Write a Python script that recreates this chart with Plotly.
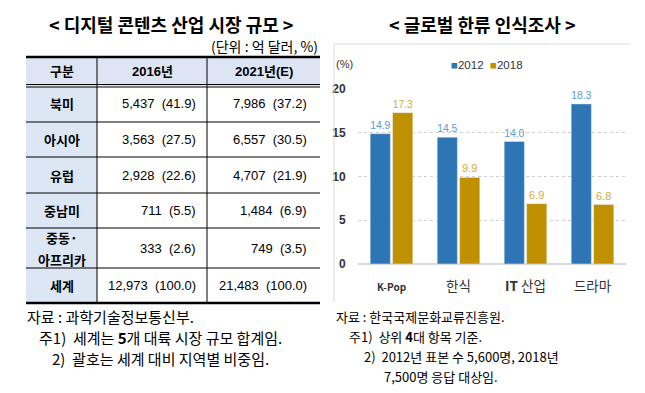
import plotly.graph_objects as go

W, H = 645, 393

# ---------------- data ----------------
table_title = "&lt; 디지털 콘텐츠 산업 시장 규모 &gt;"
table_unit = "(단위 : 억 달러, %)"
table_header = ["구분", "2016년", "2021년(E)"]
regions = ["북미", "아시아", "유럽", "중남미", "중동·<br>아프리카", "세계"]
val_2016 = ["5,437", "3,563", "2,928", "711", "333", "12,973"]
pct_2016 = ["41.9", "27.5", "22.6", "5.5", "2.6", "100.0"]
val_2021 = ["7,986", "6,557", "4,707", "1,484", "749", "21,483"]
pct_2021 = ["37.2", "30.5", "21.9", "6.9", "3.5", "100.0"]
left_notes = ["자료 : 과학기술정보통신부.",
              "주1)  세계는 <b>5</b>개 대륙 시장 규모 합계임.",
              "2)  괄호는 세계 대비 지역별 비중임."]

chart_title = "&lt; 글로벌 한류 인식조사 &gt;"
categories = ["K-Pop", "한식", "IT 산업", "드라마"]
series_names = ["2012", "2018"]
s2012 = [14.9, 14.5, 14.0, 18.3]
s2018 = [17.3, 9.9, 6.9, 6.8]
y_ticks = [0, 5, 10, 15, 20]
right_notes = ["자료 : 한국국제문화교류진흥원.",
               "주1)  상위 <b>4</b>대 항목 기준.",
               "2)  2012년 표본 수 5,600명, 2018년",
               "7,500명 응답 대상임."]

# ---------------- helpers ----------------
def px(x):
    return x / W

def py(y):
    return 1 - y / H

KR = "Noto Sans CJK KR, sans-serif"
NUM = "Liberation Sans, Noto Sans CJK KR, sans-serif"

fig = go.Figure()

# ---------------- bar chart ----------------
blue, gold = "#2e75b6", "#bf9000"
colors = [blue, gold]
fig.add_trace(go.Bar(x=categories, y=s2012, name=series_names[0], marker_color=blue,
                     text=[f"{v:.1f}" for v in s2012], textposition="outside",
                     textfont=dict(color="#5b9bd5", size=11, family=NUM), cliponaxis=False))
fig.add_trace(go.Bar(x=categories, y=s2018, name=series_names[1], marker_color=gold,
                     text=[f"{v:.1f}" for v in s2018], textposition="outside",
                     textfont=dict(color="#d6ab3a", size=11, family=NUM), cliponaxis=False))

ticktext = ["<span style='font-size:10px'><b>K-Pop</b></span>", "한식",
            "<b>IT</b> 산업", "드라마"]
fig.update_layout(
    width=W, height=H, margin=dict(l=0, r=0, t=0, b=0, autoexpand=False),
    paper_bgcolor="white", plot_bgcolor="white",
    barmode="group", bargap=0.33, bargroupgap=0.1,
    xaxis=dict(domain=[px(358), px(626)], tickmode="array", tickvals=categories,
               ticktext=ticktext, tickfont=dict(size=13.5, family=KR, color="#333"),
               showline=False, ticks="outside", ticklen=10, tickcolor="rgba(0,0,0,0)",
               fixedrange=True, automargin=False),
    yaxis=dict(domain=[py(264), py(89)], range=[0, 20], tickvals=y_ticks,
               tickfont=dict(size=12, family=NUM, color="#333", weight="bold"),
               showgrid=True, gridcolor="#d0d0d0", griddash="dot", gridwidth=1,
               zeroline=True, zerolinecolor="#d9d9d9", zerolinewidth=2,
               ticks="outside", ticklen=9, tickcolor="rgba(0,0,0,0)", fixedrange=True,
               automargin=False),
    showlegend=False,
)

shapes = []
annotations = []

def ann(text, x, y, size, family, xanchor="center", color="black", align="center", weight=None):
    f = dict(size=size, family=family, color=color)
    if weight:
        f["weight"] = weight
    annotations.append(dict(text=text, x=px(x), y=py(y), xref="paper", yref="paper",
                            xanchor=xanchor, yanchor="middle", showarrow=False,
                            align=align, font=f))

# chart panel border (top & left)
shapes.append(dict(type="line", xref="paper", yref="paper", x0=px(334), x1=px(630),
                   y0=py(44), y1=py(44), line=dict(color="#d9d9d9", width=1)))
shapes.append(dict(type="line", xref="paper", yref="paper", x0=px(334), x1=px(334),
                   y0=py(44), y1=py(302), line=dict(color="#d9d9d9", width=1)))

# legend (compact, like the original)
legend_x = [449, 488]
for name, c, lx in zip(series_names, colors, legend_x):
    ann(f"<span style='color:{c}'>■</span>{name}", lx, 65, 11.5, NUM, xanchor="left",
        color="#333")

ann("(%)", 345, 64, 11, NUM, color="#333")
ann(chart_title, 482, 24, 18, KR, weight="bold")

# ---------------- table ----------------
ann(table_title, 171, 24, 18, KR, weight="bold")
ann(table_unit, 320, 46, 14, KR, xanchor="right")

tx0, tx1 = 26, 320
col_x = [26, 97, 207, 320]
row_y = [57, 86, 122, 157, 193, 228, 268, 303]
hdr_fill = "#dde4f4"
col_fill = "#dce6f4"

shapes.append(dict(type="rect", xref="paper", yref="paper", x0=px(tx0), x1=px(tx1),
                   y0=py(row_y[0]), y1=py(row_y[1]), fillcolor=hdr_fill, line=dict(width=0),
                   layer="below"))
shapes.append(dict(type="rect", xref="paper", yref="paper", x0=px(col_x[0]), x1=px(col_x[1]),
                   y0=py(row_y[1]), y1=py(row_y[-1]), fillcolor=col_fill, line=dict(width=0),
                   layer="below"))

def hline(y, w=1):
    shapes.append(dict(type="line", xref="paper", yref="paper", x0=px(tx0), x1=px(tx1),
                       y0=py(y), y1=py(y), line=dict(color="black", width=w)))

hline(row_y[0], 2.5)
hline(row_y[1] - 1.5, 1)
hline(row_y[1] + 1, 1)
for y in row_y[2:-1]:
    hline(y, 1)
hline(row_y[-1], 2.5)
for x in col_x[1:3]:
    shapes.append(dict(type="line", xref="paper", yref="paper", x0=px(x), x1=px(x),
                       y0=py(row_y[0]), y1=py(row_y[-1]), line=dict(color="black", width=1)))

hdr_centers = [(col_x[i] + col_x[i + 1]) / 2 for i in range(3)]
hcy = (row_y[0] + row_y[1]) / 2
for i, t in enumerate(table_header):
    ann(f"<b>{t}</b>", hdr_centers[i], hcy, 13, NUM)

for r in range(len(regions)):
    cy = (row_y[r + 1] + row_y[r + 2]) / 2
    lines = regions[r].split("<br>")
    n = len(lines)
    for k, ln in enumerate(lines):
        ly = cy + (k - (n - 1) / 2) * 22
        ann(f"<b>{ln}</b>", hdr_centers[0], ly, 13, KR)
    ann(f"{val_2016[r]}  ({pct_2016[r]})", 198, cy, 13, NUM, xanchor="right")
    ann(f"{val_2021[r]}  ({pct_2021[r]})", 309, cy, 13, NUM, xanchor="right")

# notes
left_pos = [(25, 316), (37, 337), (50, 358)]
for t, (x, y) in zip(left_notes, left_pos):
    ann(t, x, y, 15, KR, xanchor="left")
right_pos = [(334, 316), (347, 336), (362, 356), (382, 376)]
for t, (x, y) in zip(right_notes, right_pos):
    ann(t, x, y, 13, KR, xanchor="left")

fig.update_layout(shapes=shapes, annotations=annotations)
fig.write_html("out.html", config={"displayModeBar": False},
               post_script="document.body.style.margin='0px';")
